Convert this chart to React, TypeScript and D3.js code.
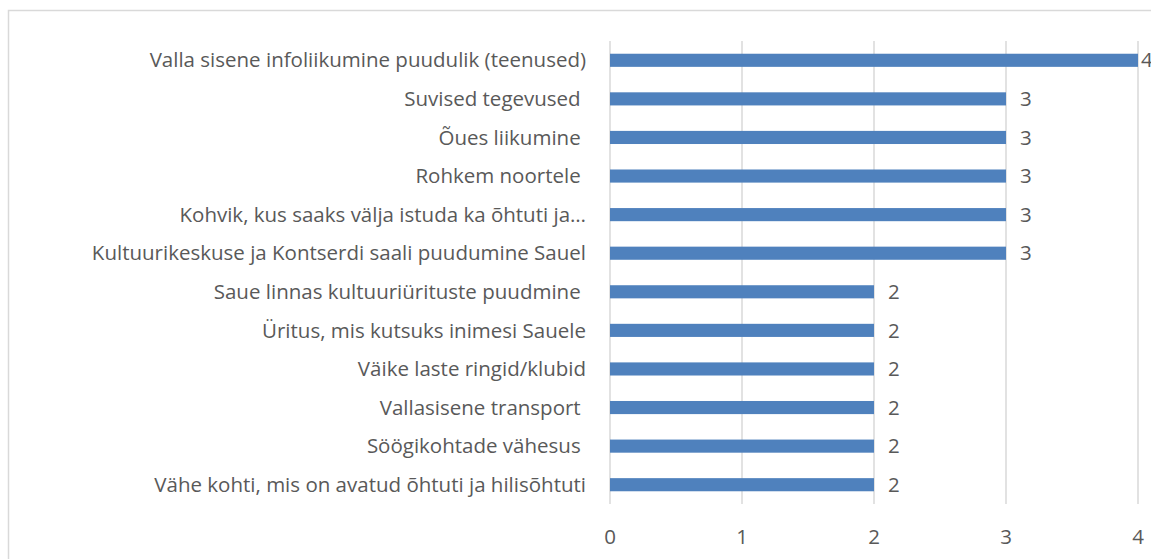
import React, { useRef, useEffect } from 'react';
import * as d3 from 'd3';

const categories: string[] = [
  'Valla sisene infoliikumine puudulik (teenused)',
  'Suvised tegevused ',
  'Õues liikumine ',
  'Rohkem noortele ',
  'Kohvik, kus saaks välja istuda ka õhtuti ja…',
  'Kultuurikeskuse ja Kontserdi saali puudumine Sauel',
  'Saue linnas kultuuriürituste puudmine ',
  'Üritus, mis kutsuks inimesi Sauele',
  'Väike laste ringid/klubid',
  'Vallasisene transport ',
  'Söögikohtade vähesus ',
  'Vähe kohti, mis on avatud õhtuti ja hilisõhtuti',
];
const values: number[] = [4, 3, 3, 3, 3, 3, 2, 2, 2, 2, 2, 2];
const xTicks: number[] = [0, 1, 2, 3, 4];

const App = () => {
  const svgRef = useRef<SVGSVGElement>(null);

  useEffect(() => {
    const width = 1151;
    const height = 559;
    const marginLeft = 610;
    const marginRight = 13;
    const marginTop = 41;
    const marginBottom = 55;
    const font = '"Open Sans", sans-serif';
    const fontSize = '20.5px';
    const textColor = '#595959';

    const svg = d3.select(svgRef.current)
      .attr('width', width)
      .attr('height', height)
      .style('font-family', font);

    svg.selectAll('*').remove();

    svg.append('rect')
      .attr('x', 8.5)
      .attr('y', 10.5)
      .attr('width', width + 20)
      .attr('height', height + 20)
      .attr('fill', 'white')
      .attr('stroke', '#d9d9d9')
      .attr('stroke-width', 1.5);

    const x = d3.scaleLinear()
      .domain([0, 4])
      .range([marginLeft, width - marginRight]);

    const y = d3.scaleBand()
      .domain(categories)
      .range([marginTop, height - marginBottom])
      .paddingInner(0.66)
      .paddingOuter(0.33);

    // grid lines
    svg.append('g')
      .selectAll('line')
      .data(xTicks)
      .join('line')
      .attr('x1', d => x(d))
      .attr('x2', d => x(d))
      .attr('y1', marginTop)
      .attr('y2', height - marginBottom)
      .attr('stroke', '#d9d9d9')
      .attr('stroke-width', 1.5);

    // x tick labels
    svg.append('g')
      .selectAll('text')
      .data(xTicks)
      .join('text')
      .attr('x', d => x(d))
      .attr('y', 537)
      .attr('dy', '0.35em')
      .attr('text-anchor', 'middle')
      .attr('fill', textColor)
      .style('font-size', fontSize)
      .text(d => d);

    // bars
    svg.append('g')
      .selectAll('rect')
      .data(categories)
      .join('rect')
      .attr('x', x(0))
      .attr('y', d => y(d)!)
      .attr('width', (d, i) => x(values[i]) - x(0))
      .attr('height', y.bandwidth())
      .attr('fill', '#4f81bd');

    // category labels
    svg.append('g')
      .selectAll('text')
      .data(categories)
      .join('text')
      .attr('x', marginLeft - 24)
      .attr('y', d => y(d)! + y.bandwidth() / 2)
      .attr('dy', '0.35em')
      .attr('text-anchor', 'end')
      .attr('fill', textColor)
      .style('font-size', fontSize)
      .style('white-space', 'pre')
      .text(d => d);

    // value labels (the max one sits right against the bar end, as in the original)
    svg.append('g')
      .selectAll('text')
      .data(categories)
      .join('text')
      .attr('x', (d, i) => x(values[i]) + (values[i] === 4 ? 3 : 14))
      .attr('y', d => y(d)! + y.bandwidth() / 2)
      .attr('dy', '0.35em')
      .attr('text-anchor', 'start')
      .attr('fill', textColor)
      .style('font-size', fontSize)
      .text((d, i) => values[i]);
  }, []);

  return (
    <svg ref={svgRef} style={{ position: 'absolute', left: 0, top: 0, display: 'block' }}></svg>
  );
};

export default App;
